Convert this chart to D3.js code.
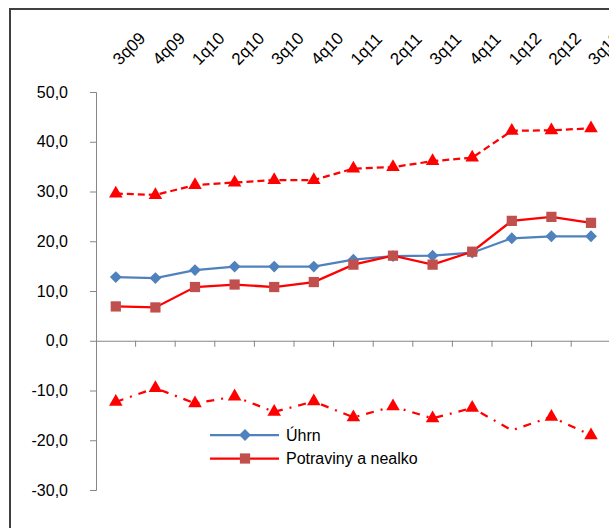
<!DOCTYPE html>
<html>
<head>
<meta charset="utf-8">
<script src="https://cdn.jsdelivr.net/npm/d3@7"></script>
<style>
  body { margin: 0; background: #fff; }
  svg { display: block; font-family: "Liberation Sans", Arial, sans-serif; }
</style>
</head>
<body>
<div id="chart"></div>
<script>
// ctvrtleti
var quarters = ["3q09", "4q09", "1q10", "2q10", "3q10", "4q10", "1q11", "2q11", "3q11", "4q11", "1q12", "2q12", "3q12"];
var uhrn = [12.8, 12.6, 14.2, 14.9, 14.9, 14.9, 16.3, 17.0, 17.1, 17.7, 20.6, 21.0, 21.0];
var potraviny = [6.9, 6.7, 10.8, 11.3, 10.8, 11.8, 15.3, 17.1, 15.3, 17.9, 24.1, 24.9, 23.7];
var horni = [29.6, 29.3, 31.3, 31.8, 32.3, 32.3, 34.6, 34.9, 36.1, 36.8, 42.2, 42.3, 42.7];
var dolni = [-12.3, -9.5, -12.6, -11.2, -14.3, -12.2, -15.4, -13.2, -15.6, -13.5, -18.0, -15.3, -19.0];
var dolniBezZnacky = ["1q12"];
var yTicks = [50, 40, 30, 20, 10, 0, -10, -20, -30];
var legendNames = ["Úhrn", "Potraviny a nealko"];

var w = 609, h = 528;
var margin = { top: 92, left: 96 };
var bandW = 39.6;

var svg = d3.select('#chart').append("svg").attr("width", w).attr("height", h);

// ramecek
svg.append("rect").attr("x", 10).attr("y", 9).attr("width", 700).attr("height", 600)
    .attr("fill", "none").attr("stroke", "#404040").attr("stroke-width", 2);

var x = d3.scaleBand().domain(quarters).range([margin.left, margin.left + bandW * quarters.length]);
var y = d3.scaleLinear().domain([-30, 50]).range([490, margin.top]);
function cx(d) { return x(d) + x.bandwidth() / 2; }

var fmt = function (v) { return d3.format(".1f")(v).replace(".", ",").replace("−", "-"); };

// osa y
var yAxis = d3.axisLeft(y).tickValues(yTicks).tickSize(6).tickPadding(22).tickFormat(fmt);
var yBar = svg.append("g").attr("transform", "translate(" + margin.left + ",0)").call(yAxis);
yBar.select(".domain").attr("stroke", "#868686");
yBar.selectAll(".tick line").attr("stroke", "#868686");
yBar.selectAll("text").attr("font-size", 16).attr("fill", "#000").attr("font-family", "Liberation Sans, Arial");

// osa x na nule
var xAxis = d3.axisBottom(x).tickSize(0).tickFormat("");
var xBar = svg.append("g").attr("transform", "translate(0," + y(0) + ")").call(xAxis);
xBar.select(".domain").attr("stroke", "#868686");
xBar.selectAll(".bound").data(quarters.slice(1)).enter().append("line")
    .attr("x1", function (d) { return x(d); }).attr("x2", function (d) { return x(d); })
    .attr("y1", 0).attr("y2", 6).attr("stroke", "#868686");

// popisky nahore
svg.append("g").selectAll("text").data(quarters).enter().append("text")
    .attr("transform", function (d) { return "translate(" + (cx(d) + 4) + ",66) rotate(-45)"; })
    .attr("font-size", 17).attr("fill", "#000")
    .text(function (d) { return d; });

var line = d3.line().x(function (d) { return cx(d.q); }).y(function (d) { return y(d.v); });
function pts(arr) { return arr.map(function (v, i) { return { q: quarters[i], v: v }; }); }

function drawLine(arr, color, dash) {
    svg.append("path").attr("d", line(pts(arr))).attr("fill", "none")
        .attr("stroke", color).attr("stroke-width", 2.25)
        .attr("stroke-dasharray", dash || null);
}

var tri = d3.symbol().type(d3.symbolTriangle).size(80);
var dia = d3.symbol().type(d3.symbolSquare).size(70);
var sq = d3.symbol().type(d3.symbolSquare).size(105);

function drawMarks(arr, sym, color, skip, rot) {
    svg.append("g").selectAll("path").data(pts(arr).filter(function (d) { return !skip || skip.indexOf(d.q) < 0; }))
        .enter().append("path")
        .attr("transform", function (d) { return "translate(" + cx(d.q) + "," + y(d.v) + ")" + (rot ? " rotate(45)" : ""); })
        .attr("d", sym).attr("fill", color);
}

drawLine(dolni, "#FF0000", "8,7,2,7");
drawMarks(dolni, tri, "#FF0000", dolniBezZnacky);
drawLine(horni, "#FF0000", "7,4");
drawMarks(horni, tri, "#FF0000");
drawLine(uhrn, "#4F81BD");
drawMarks(uhrn, dia, "#4F81BD", null, true);
drawLine(potraviny, "#FF0000");
drawMarks(potraviny, sq, "#C0504D");

// legenda
var legColors = ["#4F81BD", "#FF0000"];
var legMarkColors = ["#4F81BD", "#C0504D"];
var legSyms = [dia, sq];
var legRot = [" rotate(45)", ""];
var leg = svg.append("g").selectAll("g").data(legendNames).enter().append("g")
    .attr("transform", function (d, i) { return "translate(210," + (435 + i * 23.5) + ")"; });
leg.append("line").attr("x1", 0).attr("x2", 69).attr("stroke", function (d, i) { return legColors[i]; })
    .attr("stroke-width", 2.25);
leg.append("path").attr("transform", function (d, i) { return "translate(35,0)" + legRot[i]; })
    .attr("d", function (d, i) { return legSyms[i](); })
    .attr("fill", function (d, i) { return legMarkColors[i]; });
leg.append("text").attr("x", 76).attr("dy", "0.36em").attr("font-size", 16).attr("fill", "#000")
    .text(function (d) { return d; });
</script>
</body>
</html>
